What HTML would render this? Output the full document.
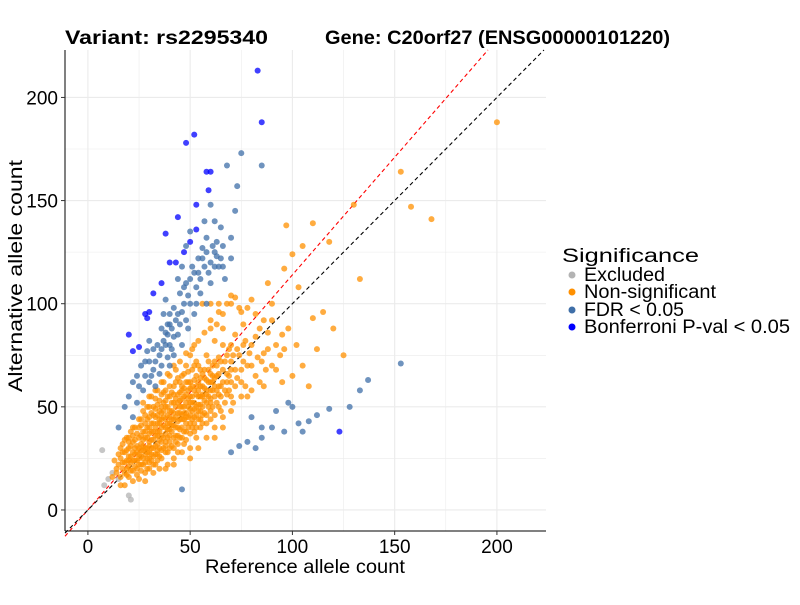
<!DOCTYPE html>
<html><head><meta charset="utf-8"><style>
body{margin:0;background:#fff;}
svg text{font-family:"Liberation Sans",Arial,sans-serif;}
</style></head><body>
<svg id="chart" width="800" height="600" viewBox="0 0 800 600" xmlns="http://www.w3.org/2000/svg">
<rect width="800" height="600" fill="#fff"/>
<g id="grid"></g>
<g id="lines"></g>
<g id="points"></g>
<g id="axes"></g>
<text x="65" y="44" font-size="19" font-weight="bold" textLength="203" lengthAdjust="spacingAndGlyphs">Variant: rs2295340</text>
<text x="325" y="44" font-size="19" font-weight="bold" textLength="345" lengthAdjust="spacingAndGlyphs">Gene: C20orf27 (ENSG00000101220)</text>
<text x="205" y="573" font-size="19" textLength="200" lengthAdjust="spacingAndGlyphs">Reference allele count</text>
<text transform="translate(22,392) rotate(-90)" font-size="19" textLength="232" lengthAdjust="spacingAndGlyphs">Alternative allele count</text>
<g>
<text x="562" y="262" font-size="19" textLength="137" lengthAdjust="spacingAndGlyphs">Significance</text>
<g><circle cx="572" cy="275" r="3.5" fill="#b3b3b3"/><text x="584" y="281" font-size="19" textLength="81" lengthAdjust="spacingAndGlyphs">Excluded</text></g>
<g><circle cx="572" cy="292" r="3.5" fill="#ff9000"/><text x="584" y="298" font-size="19" textLength="132" lengthAdjust="spacingAndGlyphs">Non-significant</text></g>
<g><circle cx="572" cy="310" r="3.5" fill="#3f6fa8"/><text x="584" y="316" font-size="19" textLength="100" lengthAdjust="spacingAndGlyphs">FDR &lt; 0.05</text></g>
<g><circle cx="572" cy="327" r="3.5" fill="#0000ff"/><text x="584" y="333" font-size="19" textLength="206" lengthAdjust="spacingAndGlyphs">Bonferroni P-val &lt; 0.05</text></g>
</g>
</svg>
<script>
const xTicks=[0,50,100,150,200];
const yTicks=[0,50,100,150,200];
const excluded=[[7,29],[8,12],[10,15],[20,7],[21,5],[15,15],[12,18]];
const nonsig=[[15,22],[16,25],[17,20],[18,28],[18,18],[19,24],[20,30],[20,21],[21,26],[22,19],[22,33],[23,24],[24,28],[24,20],[25,35],[25,22],[25,30],[16,30],[14,20],[13,24],[19,35],[21,38],[23,40],[17,32],[12,16],
[26,26],[26,32],[27,38],[27,22],[28,30],[28,42],[29,25],[29,35],[30,28],[30,45],[30,33],[31,38],[31,24],[32,30],[32,50],[33,36],[33,27],[34,42],[34,32],[35,30],[35,48],[35,38],[28,18],[30,20],[33,22],[26,44],[29,50],[31,55],[34,58],[27,48],
[36,36],[36,44],[37,30],[37,52],[38,40],[38,28],[39,46],[39,35],[40,42],[40,55],[40,33],[41,48],[41,38],[42,30],[42,60],[43,45],[43,36],[44,52],[44,40],[45,35],[45,62],[45,47],[38,58],[40,65],[43,68],[36,25],[39,22],[42,25],[44,28],[37,62],
[46,50],[46,40],[47,55],[47,44],[48,38],[48,62],[49,50],[49,45],[50,55],[50,42],[51,68],[51,48],[52,58],[52,38],[53,50],[53,72],[54,44],[54,62],[55,55],[55,48],[48,70],[50,75],[47,32],[50,30],[53,35],[55,40],[52,80],[46,65],
[56,60],[56,50],[57,68],[58,52],[58,75],[59,62],[60,58],[60,48],[61,70],[62,55],[62,82],[63,65],[64,50],[65,72],[65,60],[66,88],[67,58],[68,75],[69,65],[70,55],[70,80],[58,42],[62,40],[66,45],[60,92],[64,96],[68,100],
[72,68],[72,85],[74,75],[75,62],[76,90],[78,70],[80,80],[82,65],[84,88],[85,72],[88,78],[90,92],[92,68],[95,85],[78,55],[86,60],[74,98],[80,102],[94,75],[98,88],[102,80],[105,70],[108,60],[100,65],[72,103],[70,104],
[200,188],[153,164],[158,147],[168,141],[133,112],[130,148],[97,138],[110,139],[105,128],[100,124],[118,130],[88,110],[96,117],[103,108],[115,96],[120,88],[110,93],[112,78],[125,75],
[18,23],[20,26],[22,28],[24,24],[26,29],[28,27],[30,31],[32,34],[34,36],[36,33],[38,37],[40,39],[42,41],[44,43],[46,46],[48,47],[50,49],[52,52],[54,51],[56,55],[58,58],[60,62],[62,60],[64,66],[35,42],[37,45],[39,42],[41,44],[43,50],[45,53],[47,50],[49,58],[51,55],[53,60],[57,64],[59,68],[61,65],[63,58],[29,30],[27,34],[25,27],[23,30],[21,23],[19,20],[31,42],[33,45],[36,50],[42,52],[46,58],[50,62],[55,68],[44,36],[48,42],[52,45],[56,46],[40,30],[38,33],[34,27],[30,25],[26,22],[60,52],[64,56],[68,62],[72,60],[76,72],[80,70],[66,80],[70,72],
[14,18],[15,27],[16,16],[17,23],[17,28],[18,34],[19,17],[19,29],[20,33],[20,24],[21,19],[21,31],[22,24],[22,36],[23,21],[23,27],[23,34],[24,31],[24,37],[24,17],[25,25],[25,40],[26,19],[26,36],[26,41],[27,25],[27,29],[27,31],[28,23],[28,35],[28,38],[28,46],[29,20],[29,28],[29,40],[29,44],[30,23],[30,37],[30,40],[30,50],[31,27],[31,30],[31,34],[31,47],[32,22],[32,26],[32,38],[32,42],[32,46],[33,31],[33,40],[33,49],[33,54],[34,24],[34,29],[34,38],[34,46],[34,51],[35,26],[35,34],[35,44],[35,53],[36,29],[36,40],[36,47],[36,56],[37,35],[37,41],[37,48],[37,57],[38,31],[38,44],[38,50],[38,53],[39,28],[39,39],[39,50],[39,55],[40,36],[40,45],[40,48],[40,60],[41,31],[41,41],[41,52],[41,57],[42,35],[42,44],[42,47],[42,56],[43,33],[43,40],[43,54],[43,62],[44,32],[44,47],[44,56],[44,64],[45,39],[45,44],[45,50],[45,57],[46,35],[46,44],[46,54],[46,60],[47,38],[47,47],[47,59],[47,66],[48,34],[48,45],[48,52],[48,56],[49,40],[49,54],[49,62],[49,67],[50,37],[50,46],[50,52],[50,59],[51,40],[51,44],[51,52],[51,60],[52,42],[52,49],[52,63],[52,70],[53,40],[53,46],[53,56],[53,65],[54,48],[54,55],[54,58],[54,70],[55,44],[55,51],[55,60],[55,64],[56,42],[56,56],[56,66],[57,47],[57,53],[57,59],[58,46],[58,56],[58,63],[59,50],[59,55],[59,72],[60,44],[60,54],[60,66],[61,50],[61,58],[61,62],[62,46],[62,64],[62,72],[63,52],[63,70],[64,60],[64,74],[65,48],[65,55],[66,62],[66,68],[67,52],[67,72],[68,56],[68,66],[69,58],[69,78],[70,62],[70,68],[71,52],[71,75],[73,64],[73,78],[75,68],[77,60],[77,82],[79,76],[83,74],[87,68],
[20,35],[22,40],[25,44],[27,52],[30,55],[33,58],[36,62],[39,66],[42,70],[45,72],[48,76],[51,78],[54,82],[57,86],[60,88],[63,90],[66,95],[56,100],[60,100],[64,100],[70,100],[75,96],[78,98],[82,95],[86,92],[90,100],[76,80],[82,84],[88,86],[92,80],[96,78],[86,76],[90,70],[95,62],[84,62],[80,58],[75,55],[70,48],[66,40],[62,35],[58,35],[54,30],[50,25],[46,28],[42,22],[38,20],[35,20],[32,18],[28,14],[25,15],[22,14],[18,12],[20,16],[16,12]];
const fdr=[[75,173],[68,167],[85,167],[60,148],[73,157],[72,145],[65,137],[56,127],[60,120],[55,112],[62,125],[58,132],[64,118],[52,115],[48,110],[45,105],[50,100],[42,98],[55,105],[60,110],[66,128],[70,132],[40,90],[44,85],[38,80],[35,75],[30,72],[32,68],[28,65],[36,88],[42,75],[48,92],[52,95],[46,80],[40,70],[34,80],[30,82],[26,70],[24,65],[22,62],[33,60],[27,58],[62,140],[54,122],[50,135],[46,118],[58,100],[38,102],[44,112],[48,128],[70,122],[67,112],[20,55],[18,50],[22,45],[15,40],[57,140],[36,70],[39,85],[41,78],[43,92],[47,100],[49,88],[53,108],[57,118],[63,130],[37,95],[31,65],[29,77],
[39,74],[40,80],[41,88],[42,84],[44,95],[45,90],[46,96],[47,108],[49,104],[50,112],[51,118],[53,100],[54,115],[56,122],[58,125],[59,115],[61,128],[62,118],[63,123],[65,122],[66,118],[36,78],[37,82],[38,86],[39,90],[40,95],[35,66],[33,72],[32,78],[28,72],[25,60],[30,62],[24,52],
[153,71],[137,63],[133,58],[128,50],[118,49],[108,43],[100,50],[98,52],[92,48],[96,38],[103,42],[82,30],[85,35],[74,31],[85,40],[46,10],[70,28],[78,33],[90,40],[112,46],[80,45],[105,38]];
const bonf=[[83,213],[52,182],[48,178],[85,188],[58,164],[60,164],[59,155],[53,148],[44,142],[38,134],[50,130],[43,120],[40,120],[47,125],[30,96],[28,95],[29,93],[20,85],[25,79],[22,77],[123,38],[36,110],[32,105],[53,136]];
const L=65,R=546,T=50,B=531,X0=-11.2,X1=224,Y0=-10.2,Y1=223;
const sx=v=>L+(v-X0)/(X1-X0)*(R-L), sy=v=>B-(v-Y0)/(Y1-Y0)*(B-T);
const NS='http://www.w3.org/2000/svg';
function mk(t,a,p){const e=document.createElementNS(NS,t);for(const k in a)e.setAttribute(k,a[k]);p.appendChild(e);return e;}
const grid=document.getElementById('grid');
for(let v=-25;v<=225;v+=25){if(sx(v)>=L&&sx(v)<=R){const l=mk('line',{x1:sx(v),x2:sx(v),y1:T,y2:B,stroke:'#ebebeb','stroke-width':v%50?0.6:1.1},grid);}
if(sy(v)>=T&&sy(v)<=B){const l=mk('line',{x1:L,x2:R,y1:sy(v),y2:sy(v),stroke:'#ebebeb','stroke-width':v%50?0.6:1.1},grid);}}
const lines=document.getElementById('lines');
function refLine(slope,color,name){const xe=Math.min(X1,Y1/slope);const l=mk('line',{x1:sx(X0),y1:sy(X0*slope),x2:sx(xe),y2:sy(xe*slope),stroke:color,'stroke-width':1.1,'stroke-dasharray':'4,3'},lines);}
const pts=document.getElementById('points');
function series(arr,color,name){const g=mk('g',{},pts);
arr.forEach(d=>{const c=mk('circle',{cx:sx(d[0]),cy:sy(d[1]),r:3,fill:color,'fill-opacity':0.75},g);});}
series(excluded,'#b3b3b3','series-excluded');
series(nonsig,'#ff9000','series-non-significant');
series(fdr,'#3f6fa8','series-fdr');
series(bonf,'#0000ff','series-bonferroni');
refLine(1.14,'#ff0000','fitted-ratio-line');
refLine(1,'#000000','identity-line');
const axes=document.getElementById('axes');
mk('line',{x1:L,x2:L,y1:T,y2:B,stroke:'#000','stroke-width':1},axes);
mk('line',{x1:L,x2:R,y1:B,y2:B,stroke:'#000','stroke-width':1},axes);
xTicks.forEach(v=>{mk('line',{x1:sx(v),x2:sx(v),y1:B,y2:B+4,stroke:'#333'},axes);const t=mk('text',{x:sx(v),y:B+22,'font-size':19,'text-anchor':'middle'},axes);t.textContent=v;});
yTicks.forEach(v=>{mk('line',{x1:L-4,x2:L,y1:sy(v),y2:sy(v),stroke:'#333'},axes);const t=mk('text',{x:L-7,y:sy(v)+7,'font-size':19,'text-anchor':'end'},axes);t.textContent=v;});
</script>
</body></html>
